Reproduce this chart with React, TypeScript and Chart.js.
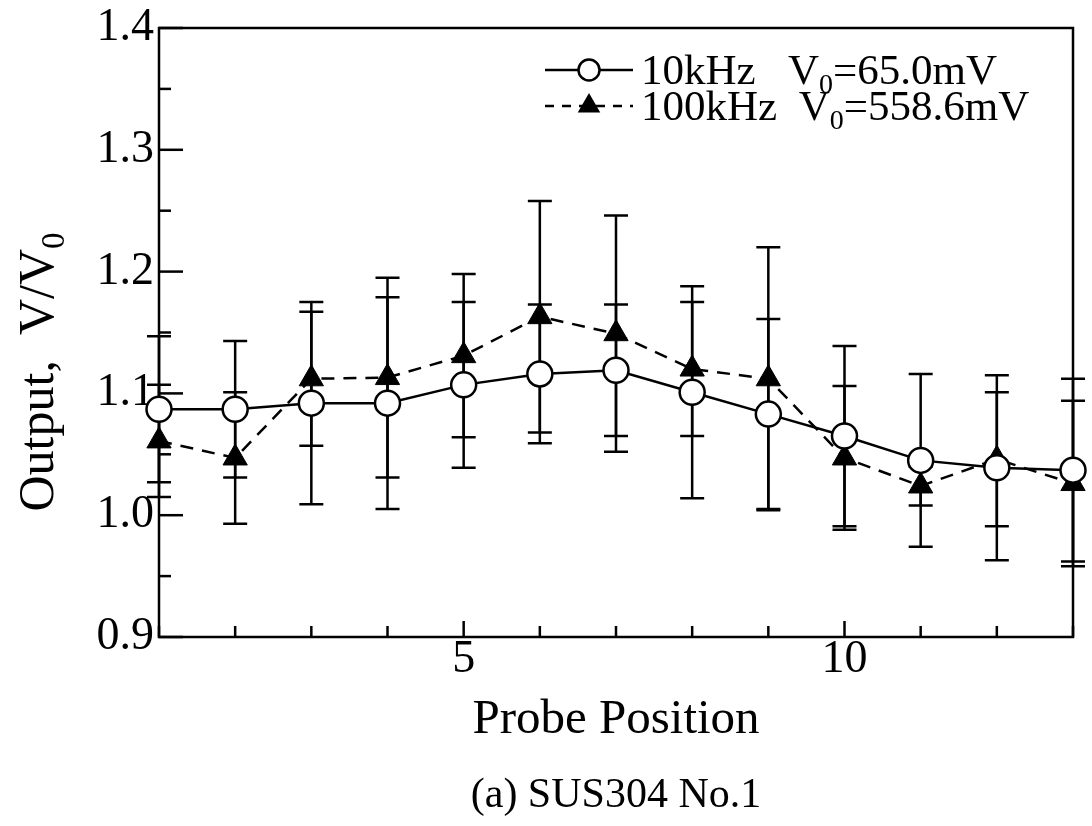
import React, { useEffect, useRef } from 'react';
import { Chart, registerables } from 'chart.js';

Chart.register(...registerables);

const FAMILY = "'Liberation Serif', 'Times New Roman', serif";

const positions = [1, 2, 3, 4, 5, 6, 7, 8, 9, 10, 11, 12, 13];
const out10k = [1.087, 1.087, 1.092, 1.092, 1.107, 1.116, 1.119, 1.101, 1.083, 1.065, 1.045, 1.039, 1.037];
const err10k = [0.060, 0.056, 0.083, 0.087, 0.068, 0.057, 0.054, 0.087, 0.078, 0.074, 0.071, 0.076, 0.075];
const out100k = [1.061, 1.047, 1.112, 1.113, 1.131, 1.163, 1.149, 1.120, 1.112, 1.047, 1.024, 1.046, 1.026];
const err100k = [0.046, 0.054, 0.055, 0.082, 0.067, 0.095, 0.097, 0.055, 0.108, 0.059, 0.016, 0.055, 0.068];
const seriesLabels = ['10kHz   V₀=65.0mV', '100kHz  V₀=558.6mV'];
const xTickLabels = [5, 10];
const xTitle = 'Probe Position';
const yTitle = 'Output,  V/V₀';
const caption = '(a) SUS304 No.1';

function drawRich(ctx: CanvasRenderingContext2D, text: string, x: number, y: number, size: number, align: 'left' | 'center') {
  const parts = text.split('₀');
  const segs: { t: string; sub: boolean; w: number }[] = [];
  parts.forEach((p, i) => {
    if (p) segs.push({ t: p, sub: false, w: 0 });
    if (i < parts.length - 1) segs.push({ t: '0', sub: true, w: 0 });
  });
  const mainFont = `${size}px ${FAMILY}`;
  const subFont = `${Math.round(size * 0.66)}px ${FAMILY}`;
  let total = 0;
  for (const s of segs) {
    ctx.font = s.sub ? subFont : mainFont;
    s.w = ctx.measureText(s.t).width;
    total += s.w;
  }
  let cx = align === 'center' ? x - total / 2 : x;
  ctx.textAlign = 'left';
  ctx.textBaseline = 'alphabetic';
  ctx.fillStyle = '#000';
  for (const s of segs) {
    ctx.font = s.sub ? subFont : mainFont;
    ctx.fillText(s.t, cx, y + (s.sub ? size * 0.22 : 0));
    cx += s.w;
  }
}

const decorPlugin = {
  id: 'decor',
  beforeDraw(chart: any) {
    const { ctx, width, height } = chart;
    ctx.save();
    ctx.fillStyle = '#fff';
    ctx.fillRect(0, 0, width, height);
    ctx.restore();
  },
  beforeDatasetsDraw(chart: any) {
    const { ctx, chartArea: a, scales } = chart;
    const xs = scales.x;
    const ys = scales.y;
    ctx.save();
    ctx.strokeStyle = '#000';
    // frame
    ctx.lineWidth = 2.5;
    ctx.strokeRect(a.left, a.top, a.right - a.left, a.bottom - a.top);
    // x ticks (inward)
    ctx.lineWidth = 2.5;
    for (let v = xs.min; v <= xs.max; v += 1) {
      const px = xs.getPixelForValue(v);
      const len = v % 5 === 0 ? 16 : 11;
      ctx.beginPath();
      ctx.moveTo(px, a.bottom);
      ctx.lineTo(px, a.bottom - len);
      ctx.stroke();
    }
    // y ticks (inward)
    const steps = Math.round((ys.max - ys.min) / 0.05);
    for (let k = 0; k <= steps; k++) {
      const py = ys.getPixelForValue(ys.min + k * 0.05);
      const len = k % 2 === 0 ? 24 : 12;
      ctx.beginPath();
      ctx.moveTo(a.left, py);
      ctx.lineTo(a.left + len, py);
      ctx.stroke();
    }
    // error bars
    const errs = [err10k, err100k];
    const vals = [out10k, out100k];
    ctx.lineWidth = 2.5;
    for (let d = 0; d < 2; d++) {
      for (let i = 0; i < positions.length; i++) {
        const px = xs.getPixelForValue(positions[i]);
        const yt = ys.getPixelForValue(vals[d][i] + errs[d][i]);
        const yb = ys.getPixelForValue(vals[d][i] - errs[d][i]);
        ctx.beginPath();
        ctx.moveTo(px, yt);
        ctx.lineTo(px, yb);
        ctx.moveTo(px - 12, yt);
        ctx.lineTo(px + 12, yt);
        ctx.moveTo(px - 12, yb);
        ctx.lineTo(px + 12, yb);
        ctx.stroke();
      }
    }
    ctx.restore();
  },
  afterDraw(chart: any) {
    const { ctx } = chart;
    ctx.save();
    // y title
    ctx.translate(36, 372);
    ctx.rotate(-Math.PI / 2);
    drawRich(ctx, yTitle, 0, 17, 50, 'center');
    ctx.restore();

    // legend
    ctx.save();
    const rows = [84, 120];
    const lx0 = 545, lx1 = 633, mx = 589, tx = 641;
    chart.data.datasets.forEach((ds: any, i: number) => {
      const cy = rows[i] - 14;
      ctx.strokeStyle = '#000';
      ctx.lineWidth = 2.5;
      ctx.setLineDash(ds.borderDash ? [9, 8] : []);
      ctx.beginPath();
      ctx.moveTo(lx0, cy);
      ctx.lineTo(lx1, cy);
      ctx.stroke();
      ctx.setLineDash([]);
      ctx.beginPath();
      if (ds.pointStyle === 'circle') {
        ctx.arc(mx, cy, 10.5, 0, Math.PI * 2);
        ctx.fillStyle = '#fff';
        ctx.fill();
        ctx.stroke();
      } else {
        const r = 13;
        ctx.moveTo(mx, cy - r);
        ctx.lineTo(mx + r * Math.sin((2 * Math.PI) / 3), cy - r * Math.cos((2 * Math.PI) / 3));
        ctx.lineTo(mx - r * Math.sin((2 * Math.PI) / 3), cy - r * Math.cos((2 * Math.PI) / 3));
        ctx.closePath();
        ctx.fillStyle = '#000';
        ctx.fill();
      }
      drawRich(ctx, ds.label, tx, rows[i], 43, 'left');
    });
    ctx.restore();
  },
};

export default function App() {
  const ref = useRef<HTMLCanvasElement | null>(null);
  useEffect(() => {
    if (!ref.current) return;
    const chart = new Chart(ref.current, {
      type: 'line',
      data: {
        datasets: [
          {
            label: seriesLabels[0],
            data: positions.map((x, i) => ({ x, y: out10k[i] })),
            borderColor: '#000',
            borderWidth: 2.5,
            pointStyle: 'circle',
            pointRadius: 12.5,
            pointBackgroundColor: '#fff',
            pointBorderColor: '#000',
            pointBorderWidth: 2.5,
            clip: false,
            tension: 0,
            fill: false,
          } as any,
          {
            label: seriesLabels[1],
            data: positions.map((x, i) => ({ x, y: out100k[i] })),
            borderColor: '#000',
            borderWidth: 2.5,
            borderDash: [13, 9],
            pointStyle: 'triangle',
            pointRadius: 14,
            pointBackgroundColor: '#000',
            pointBorderColor: '#000',
            pointBorderWidth: 1,
            clip: false,
            tension: 0,
            fill: false,
          } as any,
        ],
      },
      options: {
        animation: false,
        responsive: false,
        devicePixelRatio: 1,
        layout: { padding: { top: 25, right: 19, left: 0, bottom: 0 } },
        plugins: {
          legend: { display: false },
          tooltip: { enabled: false },
          title: {
            display: true,
            position: 'bottom',
            fullSize: false,
            text: caption,
            color: '#000',
            font: { family: FAMILY, size: 42, weight: 'normal', lineHeight: 1.2 },
            padding: { top: 9, bottom: 5 },
          },
        },
        scales: {
          x: {
            type: 'linear',
            min: 1,
            max: 13,
            grid: { display: false, drawTicks: false },
            border: { display: false },
            ticks: {
              stepSize: 1,
              autoSkip: false,
              maxRotation: 0,
              padding: 0,
              color: '#000',
              font: { family: FAMILY, size: 46, lineHeight: 1 },
              callback: (v: any) => (xTickLabels.includes(Number(v)) ? String(v) : ''),
            },
            title: {
              display: true,
              text: xTitle,
              color: '#000',
              font: { family: FAMILY, size: 49, lineHeight: 1.2 },
              padding: { top: 0, bottom: 12 },
            },
            afterFit: (s: any) => {
              s.height = 124.6;
            },
          },
          y: {
            min: 0.9,
            max: 1.4,
            grid: { display: false, drawTicks: false },
            border: { display: false },
            ticks: {
              stepSize: 0.1,
              padding: 5,
              color: '#000',
              font: { family: FAMILY, size: 46, lineHeight: 1 },
              callback: (v: any) => Number(v).toFixed(1),
            },
            afterFit: (s: any) => {
              s.width = 159;
            },
          },
        },
      } as any,
      plugins: [decorPlugin],
    });
    return () => chart.destroy();
  }, []);
  return (
    <div style={{ position: 'absolute', left: 0, top: 0, width: 1092, height: 826, background: '#fff' }}>
      <canvas ref={ref} width={1092} height={826} style={{ width: 1092, height: 826, display: 'block' }} />
    </div>
  );
}
